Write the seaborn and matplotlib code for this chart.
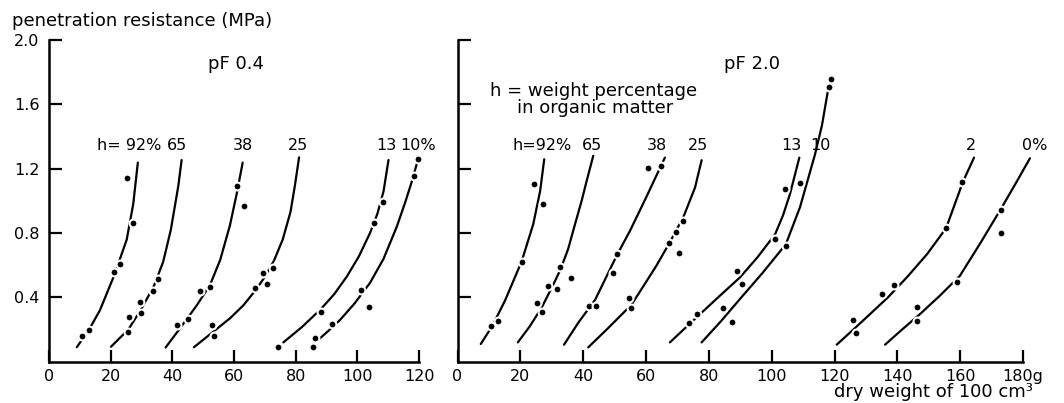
import matplotlib
matplotlib.use('Agg')
import matplotlib.pyplot as plt
import seaborn as sns

# pF 0.4 panel: organic matter classes, measured points and fitted curves
pf04_labels = ['h= 92%', '65', '38', '25', '13', '10%']
pf04_point_x = [
    [10.6, 13.1, 21.2, 23.0, 27.3, 25.4],
    [25.7, 25.9, 29.6, 29.8, 33.8, 35.5],
    [41.5, 45.0, 48.9, 52.2, 60.9, 63.3],
    [53.0, 53.5, 66.8, 69.3, 70.6, 72.6],
    [74.4, 88.1, 105.4, 108.4],
    [85.7, 86.3, 91.7, 101.2, 103.8, 118.5, 119.8],
]
pf04_point_y = [
    [0.162, 0.195, 0.556, 0.61, 0.865, 1.145],
    [0.187, 0.28, 0.373, 0.30, 0.44, 0.512],
    [0.228, 0.264, 0.438, 0.466, 1.095, 0.97],
    [0.228, 0.162, 0.456, 0.553, 0.483, 0.581],
    [0.093, 0.311, 0.865, 0.991],
    [0.093, 0.149, 0.234, 0.446, 0.338, 1.155, 1.259],
]
pf04_curve_x = [
    [9.0, 13.0, 16.5, 21.2, 25.2, 27.3, 28.8],
    [20.1, 25.7, 29.7, 34.0, 37.0, 39.5, 41.9, 43.0],
    [37.8, 42.5, 47.9, 52.2, 55.5, 58.7, 60.9, 62.8],
    [47.0, 53.3, 58.7, 63.0, 66.8, 70.1, 73.0, 75.8, 78.3, 79.7, 81.1],
    [76.0, 82.0, 88.1, 92.5, 96.6, 100.5, 104.1, 106.5, 108.5, 110.1],
    [87.0, 90.5, 94.4, 99.0, 104.1, 108.5, 112.8, 115.5, 117.5, 119.7],
]
pf04_curve_y = [
    [0.09, 0.20, 0.32, 0.54, 0.76, 0.98, 1.238],
    [0.093, 0.20, 0.32, 0.47, 0.62, 0.82, 1.09, 1.254],
    [0.088, 0.208, 0.35, 0.477, 0.632, 0.85, 1.047, 1.238],
    [0.09, 0.187, 0.27, 0.35, 0.44, 0.53, 0.63, 0.76, 0.93, 1.09, 1.271],
    [0.12, 0.215, 0.326, 0.42, 0.53, 0.655, 0.80, 0.92, 1.06, 1.254],
    [0.13, 0.19, 0.26, 0.36, 0.49, 0.64, 0.84, 0.99, 1.11, 1.259],
]

# pF 2.0 panel
pf20_labels = ['h=92%', '65', '38', '25', '13', '10', '2', '0%']
pf20_point_x = [
    [10.6, 12.8, 20.4, 24.2, 27.3],
    [25.3, 27.0, 28.8, 31.6, 32.7, 36.0],
    [41.9, 44.2, 49.6, 50.9, 60.7, 64.8],
    [54.6, 55.2, 67.4, 69.4, 70.6, 71.9],
    [73.8, 76.1, 89.1, 90.5, 101.1, 104.2],
    [84.4, 87.3, 104.5, 109.0, 118.3, 118.8],
    [126.0, 126.8, 135.1, 138.9, 155.5, 160.7],
    [146.1, 146.3, 158.9, 173.0, 173.0],
]
pf20_point_y = [
    [0.219, 0.253, 0.623, 1.108, 0.98],
    [0.364, 0.306, 0.472, 0.455, 0.59, 0.52],
    [0.348, 0.348, 0.549, 0.669, 1.207, 1.217],
    [0.396, 0.337, 0.741, 0.809, 0.673, 0.876],
    [0.24, 0.296, 0.561, 0.483, 0.766, 1.073],
    [0.331, 0.244, 0.72, 1.114, 1.71, 1.76],
    [0.261, 0.178, 0.424, 0.478, 0.83, 1.118],
    [0.342, 0.25, 0.493, 0.944, 0.803],
]
pf20_curve_x = [
    [7.4, 11.0, 15.1, 20.4, 24.1, 26.3, 27.6],
    [19.2, 23.0, 26.8, 30.0, 32.7, 35.2, 37.4, 39.5, 41.1, 43.2],
    [33.9, 38.5, 43.8, 50.9, 54.9, 60.0, 66.0],
    [41.6, 48.0, 55.4, 59.5, 63.4, 67.5, 71.9, 75.6, 77.7],
    [67.6, 72.5, 77.2, 83.5, 89.9, 95.5, 101.1, 103.6, 105.8, 108.8],
    [77.7, 84.0, 89.9, 97.0, 104.5, 109.0, 113.8, 116.0, 118.3],
    [120.7, 126.0, 131.3, 137.0, 143.0, 149.5, 155.5, 160.9, 164.4],
    [136.1, 141.5, 147.2, 153.5, 159.9, 166.5, 173.2, 178.0, 182.2],
]
pf20_curve_y = [
    [0.11, 0.22, 0.379, 0.623, 0.855, 1.062, 1.259],
    [0.12, 0.22, 0.337, 0.46, 0.57, 0.70, 0.855, 1.0, 1.124, 1.28],
    [0.106, 0.244, 0.385, 0.669, 0.814, 1.02, 1.269],
    [0.089, 0.21, 0.355, 0.48, 0.60, 0.74, 0.90, 1.083, 1.253],
    [0.12, 0.21, 0.296, 0.41, 0.524, 0.65, 0.793, 0.91, 1.041, 1.269],
    [0.12, 0.255, 0.39, 0.55, 0.73, 0.96, 1.29, 1.47, 1.73],
    [0.106, 0.20, 0.296, 0.40, 0.524, 0.67, 0.83, 1.12, 1.269],
    [0.106, 0.20, 0.296, 0.41, 0.534, 0.74, 0.958, 1.12, 1.265],
]

y_ticks = [0.4, 0.8, 1.2, 1.6, 2.0]
pf04_x_ticks = [0, 20, 40, 60, 80, 100, 120]
pf20_x_ticks = [0, 20, 40, 60, 80, 100, 120, 140, 160, 180]
pf20_x_ticklabels = ['0', '20', '40', '60', '80', '100', '120', '140', '160', '180g']

sns.set_style('ticks', {'axes.edgecolor': 'black', 'text.color': 'black',
                        'xtick.color': 'black', 'ytick.color': 'black',
                        'axes.labelcolor': 'black'})
plt.rcParams['font.family'] = ['DejaVu Sans']
plt.rcParams['lines.solid_joinstyle'] = 'round'
plt.rcParams['lines.solid_capstyle'] = 'round'


def draw_panel(ax, labels, point_x, point_y, curve_x, curve_y, label_ha, label_dx):
    for i in range(len(labels)):
        sns.lineplot(x=curve_x[i], y=curve_y[i], ax=ax, color='black', linewidth=1.6,
                     sort=False, estimator=None, zorder=2)
        sns.scatterplot(x=point_x[i], y=point_y[i], ax=ax, color='black', s=32,
                        edgecolor='white', linewidth=1.5, zorder=3)
        # class label above the top end of each curve
        ax.annotate(labels[i], xy=(curve_x[i][-1], 1.345), xytext=(label_dx[i], 0),
                    textcoords='offset points', ha=label_ha[i], va='center', fontsize=11.5)
    ax.set_ylim(0, 2.0)
    ax.set_yticks(y_ticks)
    sns.despine(ax=ax)
    for side in ['left', 'bottom']:
        ax.spines[side].set_linewidth(1.8)
    ax.spines['left'].set_bounds(0, 2.0)
    ax.tick_params(direction='in', length=9, width=1.6, labelsize=11.5)
    ax.tick_params(axis='x', pad=5)
    ax.tick_params(axis='y', pad=7)
    ax.set_xlabel('')
    ax.set_ylabel('')


fig = plt.figure(figsize=(10.64, 4.03), dpi=100)
ax1 = fig.add_axes([0.0461, 0.1025, 0.3535, 0.798])
ax2 = fig.add_axes([0.43, 0.1025, 0.5433, 0.798])

# Left panel: pF 0.4
draw_panel(ax1, pf04_labels, pf04_point_x, pf04_point_y, pf04_curve_x, pf04_curve_y,
           ['right', 'center', 'center', 'center', 'center', 'left'],
           [17, -3.3, 0, -0.7, -1.7, -13])
ax1.set_xlim(0, 122)
ax1.spines['bottom'].set_bounds(0, 120)
ax1.set_xticks(pf04_x_ticks)
ax1.set_yticklabels([f'{t:.1f}' for t in y_ticks])
ax1.text(60.7, 1.85, 'pF 0.4', ha='center', va='center', fontsize=13)

# Right panel: pF 2.0
draw_panel(ax2, pf20_labels, pf20_point_x, pf20_point_y, pf20_curve_x, pf20_curve_y,
           ['right', 'center', 'center', 'center', 'center', 'center', 'center', 'left'],
           [20, -0.7, -5.7, -2.6, -6, -6, -2, -5.8])
ax2.set_xlim(0, 184)
ax2.spines['bottom'].set_bounds(0, 180)
ax2.set_xticks(pf20_x_ticks)
ax2.set_xticklabels(pf20_x_ticklabels)
ax2.tick_params(axis='y', labelleft=False)
ax2.text(93.7, 1.854, 'pF 2.0', ha='center', va='center', fontsize=13)
ax2.text(10.3, 1.686, 'h = weight percentage', ha='left', va='center', fontsize=13)
ax2.text(18.9, 1.58, 'in organic matter', ha='left', va='center', fontsize=13)

fig.text(12 / 1064, 1 - 21 / 403, 'penetration resistance (MPa)', ha='left', va='center', fontsize=13)
fig.text(1033 / 1064, 1 - 392 / 403, 'dry weight of 100 cm³', ha='right', va='center', fontsize=13)

fig.savefig('out.png', dpi=100)
